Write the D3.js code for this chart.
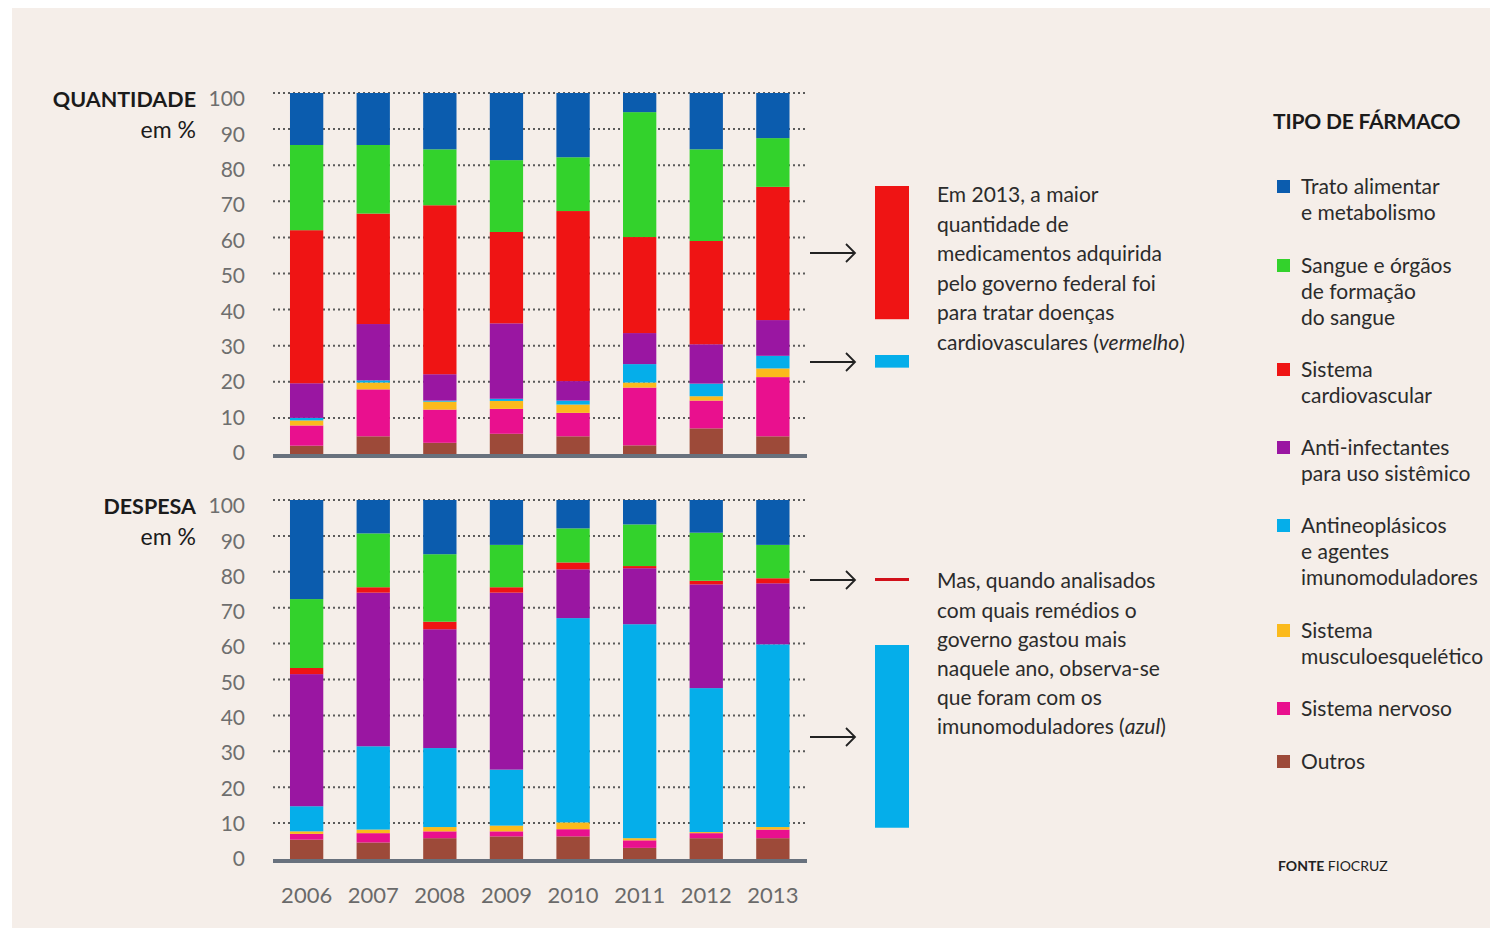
<!DOCTYPE html>
<html><head><meta charset="utf-8">
<script src="https://cdn.jsdelivr.net/npm/d3@7/dist/d3.min.js"></script>
<style>
html,body{margin:0;padding:0;background:#fff;}
svg{display:block;font-family:Lato,"Open Sans",sans-serif;}
</style></head>
<body>
<svg id="chart" width="1490" height="929"></svg>
<script>
// ---------- DATA ----------
const years = ["2006","2007","2008","2009","2010","2011","2012","2013"];
const seriesKeys = ["outros","nervoso","musc","antineo","antiinf","cardio","sangue","trato"]; // bottom -> top
const seriesColors = {
  trato:"#0b5cae", sangue:"#33d22c", cardio:"#ef1414", antiinf:"#9a16a2",
  antineo:"#05aeea", musc:"#fbba1c", nervoso:"#e9108e", outros:"#9d4a39"
};
const legendKeys = ["trato","sangue","cardio","antiinf","antineo","musc","nervoso","outros"];
const legendLabels = [
  ["Trato alimentar","e metabolismo"],
  ["Sangue e órgãos","de formação","do sangue"],
  ["Sistema","cardiovascular"],
  ["Anti-infectantes","para uso sistêmico"],
  ["Antineoplásicos","e agentes","imunomoduladores"],
  ["Sistema","musculoesquelético"],
  ["Sistema nervoso"],
  ["Outros"]
];
const yTicks = [0,10,20,30,40,50,60,70,80,90,100];

// Quantidade (%)
const qTrato   = [14.4,14.4,15.6,18.6,17.8, 5.3,15.6,12.5];
const qSangue  = [23.6,19.0,15.5,19.9,14.9,34.6,25.4,13.5];
const qCardio  = [42.4,30.6,46.8,25.3,47.1,26.6,28.6,36.9];
const qAntiInf = [ 9.6,15.6, 7.3,20.9, 5.4, 8.6,10.9, 9.9];
const qAntineo = [ 0.7, 0.6, 0.3, 0.6, 1.1, 5.1, 3.5, 3.5];
const qMusc    = [ 1.4, 1.9, 2.2, 2.2, 2.3, 1.4, 1.2, 2.4];
const qNervoso = [ 5.6,13.0, 9.2, 6.9, 6.5,16.0, 7.7,16.4];
const qOutros  = [ 2.3, 4.9, 3.1, 5.6, 4.9, 2.4, 7.1, 4.9];

// Despesa (%)
const dTrato   = [27.6, 9.3,15.1,12.5, 7.9, 6.8, 9.1,12.5];
const dSangue  = [19.2,15.0,18.8,11.8, 9.5,11.6,13.4, 9.3];
const dCardio  = [ 1.7, 1.5, 2.1, 1.5, 1.9, 0.6, 1.0, 1.4];
const dAntiInf = [36.8,42.8,33.1,49.3,13.6,15.6,28.9,17.0];
const dAntineo = [ 7.0,23.2,22.0,15.6,56.9,59.6,40.1,50.9];
const dMusc    = [ 0.7, 1.0, 1.2, 1.6, 1.9, 0.6, 0.3, 0.7];
const dNervoso = [ 1.6, 2.6, 1.9, 1.4, 2.0, 2.1, 1.4, 2.4];
const dOutros  = [ 5.4, 4.6, 5.8, 6.3, 6.3, 3.1, 5.8, 5.8];

function buildRows(s){
  return years.map((y,i)=>{
    const r={year:y};
    for(const k of seriesKeys) r[k]=s[k][i];
    return r;
  });
}
const qRows = buildRows({trato:qTrato,sangue:qSangue,cardio:qCardio,antiinf:qAntiInf,antineo:qAntineo,musc:qMusc,nervoso:qNervoso,outros:qOutros});
const dRows = buildRows({trato:dTrato,sangue:dSangue,cardio:dCardio,antiinf:dAntiInf,antineo:dAntineo,musc:dMusc,nervoso:dNervoso,outros:dOutros});

// ---------- DRAW ----------
const svg = d3.select("#chart");
svg.append("rect").attr("x",12).attr("y",8).attr("width",1478).attr("height",920).attr("fill","#f5eee9");

const x = d3.scaleBand().domain(years).range([273,806.5]).paddingInner(0.5).paddingOuter(0.255);
const stack = d3.stack().keys(seriesKeys);

function panel(rows, yTop, yBottom, labTop, labBottom, title){
  const y = d3.scaleLinear().domain([0,100]).range([yBottom,yTop]);
  const yLab = d3.scaleLinear().domain([0,100]).range([labBottom,labTop]);
  const g = svg.append("g");
  // grid
  g.selectAll("line.grid").data(yTicks.filter(t=>t>0)).join("line")
    .attr("x1",273).attr("x2",807).attr("y1",d=>y(d)).attr("y2",d=>y(d))
    .attr("stroke","#5a5a5a").attr("stroke-width",2).attr("stroke-dasharray","2,3");
  // bars
  const layers = stack(rows);
  g.selectAll("g.layer").data(layers).join("g")
    .attr("fill",d=>seriesColors[d.key])
    .selectAll("rect").data(d=>d).join("rect")
    .attr("x",d=>x(d.data.year)).attr("width",x.bandwidth())
    .attr("y",d=>y(d[1])).attr("height",d=>y(d[0])-y(d[1]));
  // axis bar
  g.append("rect").attr("x",273).attr("y",y(0)).attr("width",534).attr("height",4).attr("fill","#68717d");
  // y labels
  const ya = d3.axisLeft(yLab).tickValues(yTicks).tickSize(0).tickPadding(0);
  const ag = g.append("g").attr("transform","translate(245,0)").call(ya);
  ag.select(".domain").remove();
  ag.selectAll("text").attr("font-size",21).attr("fill","#6e6e6e").attr("font-family","Lato,sans-serif");
  // title
  g.append("text").attr("x",196).attr("y",labTop).attr("dy","0.35em").attr("text-anchor","end")
    .attr("font-size",21.5).attr("font-weight",700).attr("fill","#1b1b1b").text(title);
  g.append("text").attr("x",196).attr("y",labTop+31).attr("dy","0.35em").attr("text-anchor","end")
    .attr("font-size",23).attr("fill","#1b1b1b").text("em %");
  return y;
}
const yQ = panel(qRows, 93, 454, 99, 453, "QUANTIDADE");
const yD = panel(dRows, 500, 859, 506, 859, "DESPESA");

// x labels
const xa = d3.axisBottom(x).tickSize(0).tickPadding(0);
const xg = svg.append("g").attr("transform","translate(0,887)").call(xa);
xg.select(".domain").remove();
xg.selectAll("text").attr("font-size",22).attr("fill","#6a6a6a").attr("font-family","Lato,sans-serif");

// arrows
function arrow(yy){
  const g = svg.append("g").attr("stroke","#222").attr("stroke-width",1.8).attr("fill","none");
  g.append("line").attr("x1",810).attr("x2",855).attr("y1",yy).attr("y2",yy);
  g.append("path").attr("d",`M846,${yy-9} L855,${yy} L846,${yy+9}`);
}
const i13 = years.indexOf("2013");
// annotation swatches (heights from data of 2013)
const hq = v=>yQ(0)-yQ(v), hd = v=>yD(0)-yD(v);
svg.append("rect").attr("x",875).attr("y",186).attr("width",34).attr("height",hq(qCardio[i13])).attr("fill",seriesColors.cardio);
svg.append("rect").attr("x",875).attr("y",355).attr("width",34).attr("height",hq(qAntineo[i13])).attr("fill",seriesColors.antineo);
svg.append("rect").attr("x",875).attr("y",578).attr("width",34).attr("height",3).attr("fill","#d1101a");
svg.append("rect").attr("x",875).attr("y",645).attr("width",34).attr("height",hd(dAntineo[i13])).attr("fill",seriesColors.antineo);
arrow(253); arrow(362); arrow(580); arrow(737);

// annotation texts
function para(lines, x0, y0, lh){
  const t = svg.append("text").attr("font-size",21).attr("fill","#2b2b2b");
  lines.forEach((ln,i)=>{
    const ts = t.append("tspan").attr("x",x0).attr("y",y0+i*lh).attr("dy","0.35em");
    if(Array.isArray(ln)){
      ln.forEach(p=>{ const s = ts.append("tspan").text(p.t); if(p.i) s.attr("font-style","italic"); });
    } else ts.text(ln);
  });
}
para(["Em 2013, a maior","quantidade de","medicamentos adquirida","pelo governo federal foi","para tratar doenças",
  [{t:"cardiovasculares ("},{t:"vermelho",i:true},{t:")"}]], 937, 195, 29.5);
para(["Mas, quando analisados","com quais remédios o","governo gastou mais","naquele ano, observa-se","que foram com os",
  [{t:"imunomoduladores ("},{t:"azul",i:true},{t:")"}]], 937, 581, 29.2);

// legend
svg.append("text").attr("x",1273).attr("y",122).attr("dy","0.35em").attr("font-size",21).attr("font-weight",700)
  .attr("fill","#1b1b1b").attr("letter-spacing",-0.2).text("TIPO DE FÁRMACO");
const legY = [187,266,370,448,526,631,709,762];
const lg = svg.append("g").selectAll("g").data(legendKeys).join("g")
  .attr("transform",(d,i)=>`translate(1277,${legY[i]})`);
lg.append("rect").attr("x",0).attr("y",-7).attr("width",13).attr("height",13).attr("fill",d=>seriesColors[d]);
lg.append("text").attr("font-size",21).attr("fill","#2b2b2b")
  .each(function(d,i){
    const t=d3.select(this);
    legendLabels[i].forEach((ln,j)=>t.append("tspan").attr("x",24).attr("y",j*26).attr("dy","0.35em").text(ln));
  });

// source
const src = svg.append("text").attr("x",1278).attr("y",866).attr("dy","0.35em").attr("font-size",14).attr("fill","#222");
src.append("tspan").attr("font-weight",700).text("FONTE ");
src.append("tspan").text("FIOCRUZ");
</script>
</body></html>
